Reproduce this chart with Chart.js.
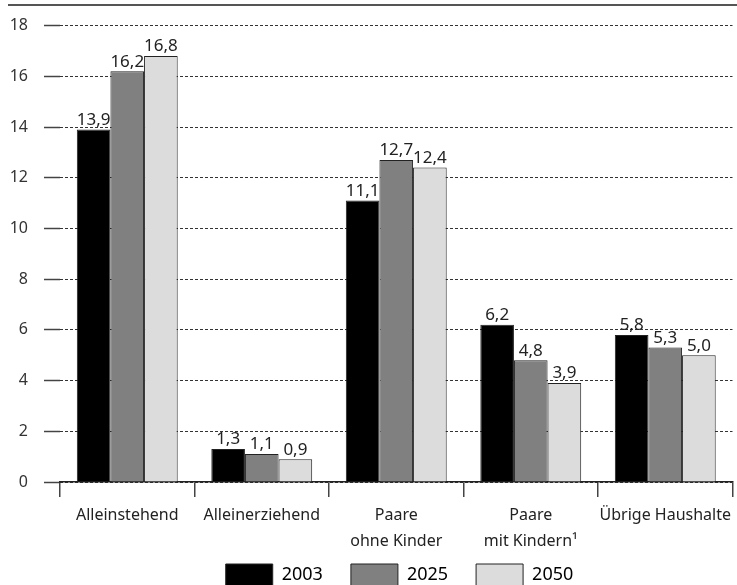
<!DOCTYPE html>
<html>
<head>
<meta charset="utf-8">
<script src="https://cdn.jsdelivr.net/npm/chart.js@4.4.1/dist/chart.umd.min.js"></script>
<style>
  html, body { margin: 0; padding: 0; background: #fff; }
  #wrap { width: 737px; height: 585px; }
</style>
</head>
<body>
<div id="wrap"><canvas id="c" width="737" height="585"></canvas></div>
<script>
// Haushalte nach Haushaltstyp (Mio.)
const categories = [
  'Alleinstehend',
  'Alleinerziehend',
  ['Paare', 'ohne Kinder'],
  ['Paare', 'mit Kindern\u00b9'],
  'Übrige Haushalte'
];
const years = ['2003', '2025', '2050'];
const values2003 = [13.9, 1.3, 11.1, 6.2, 5.8];
const values2025 = [16.2, 1.1, 12.7, 4.8, 5.3];
const values2050 = [16.8, 0.9, 12.4, 3.9, 5.0];
const yTicks = [0, 2, 4, 6, 8, 10, 12, 14, 16, 18];

const FONT = '"Noto Sans", "Open Sans", sans-serif';
const fills = ['#000000', '#808080', '#dcdcdc'];

// Frame line across the top of the figure
const topRule = {
  id: 'topRule',
  beforeDraw(chart) {
    const ctx = chart.ctx;
    ctx.save();
    ctx.strokeStyle = '#555';
    ctx.lineWidth = 2;
    ctx.beginPath();
    ctx.moveTo(8, 5);
    ctx.lineTo(chart.width, 5);
    ctx.stroke();
    ctx.restore();
  }
};

// Centre the legend row under the plot area and tuck it up under the labels
const legendShift = {
  id: 'legendShift',
  afterLayout(chart) {
    const lg = chart.legend;
    if (!lg) return;
    lg.left += 31;
    lg.right += 31;
    lg.top -= 16;
    lg.bottom -= 16;
  }
};

// Value labels above each bar, decimal comma
const valueLabels = {
  id: 'valueLabels',
  afterDatasetsDraw(chart) {
    const ctx = chart.ctx;
    ctx.save();
    ctx.font = '17px ' + FONT;
    ctx.fillStyle = '#222';
    ctx.textAlign = 'center';
    ctx.textBaseline = 'bottom';
    chart.data.datasets.forEach((ds, i) => {
      const meta = chart.getDatasetMeta(i);
      meta.data.forEach((bar, j) => {
        const txt = ds.data[j].toFixed(1).replace('.', ',');
        ctx.fillText(txt, bar.x, bar.y - 1);
      });
    });
    ctx.restore();
  }
};

new Chart(document.getElementById('c'), {
  type: 'bar',
  data: {
    labels: categories,
    datasets: [
      { label: years[0], data: values2003 },
      { label: years[1], data: values2025 },
      { label: years[2], data: values2050 }
    ].map((d, i) => Object.assign(d, {
      backgroundColor: fills[i],
      borderColor: '#222',
      borderWidth: 1,
      categoryPercentage: 0.75,
      barPercentage: 1.0
    }))
  },
  options: {
    responsive: false,
    animation: false,
    devicePixelRatio: 1,
    layout: { padding: { top: 18, right: 0, bottom: -27, left: 0 } },
    plugins: {
      tooltip: { enabled: false },
      legend: {
        position: 'bottom',
        labels: {
          boxWidth: 47,
          boxHeight: 22,
          padding: 28,
          color: '#222',
          font: { family: FONT, size: 18 },
          generateLabels(chart) {
            return chart.data.datasets.map((ds, i) => ({
              text: ds.label,
              fillStyle: ds.backgroundColor,
              strokeStyle: '#222',
              lineWidth: 1,
              datasetIndex: i
            }));
          }
        }
      }
    },
    scales: {
      x: {
        offset: true,
        grid: {
          offset: true,
          drawOnChartArea: false,
          color: '#444',
          tickLength: 15,
          lineWidth: 1.5
        },
        border: { display: true, color: '#222', width: 1.5 },
        ticks: {
          color: '#222',
          padding: 6,
          maxRotation: 0,
          autoSkip: false,
          font: { family: FONT, size: 16, lineHeight: 1.6 }
        },
        afterFit(scale) { scale.height = 70; }
      },
      y: {
        min: 0,
        max: 18,
        afterBuildTicks(scale) {
          scale.ticks = yTicks.map(v => ({ value: v }));
        },
        grid: {
          color: '#333',
          lineWidth: 1,
          tickLength: 16,
          tickColor: '#444',
          tickBorderDash: [],
          tickWidth: 1.5
        },
        border: { display: false, dash: [3, 2] },
        ticks: {
          color: '#333',
          padding: 16,
          font: { family: FONT, size: 16 }
        },
        afterFit(scale) { scale.width = 60; }
      }
    }
  },
  plugins: [topRule, legendShift, valueLabels]
});
</script>
</body>
</html>
